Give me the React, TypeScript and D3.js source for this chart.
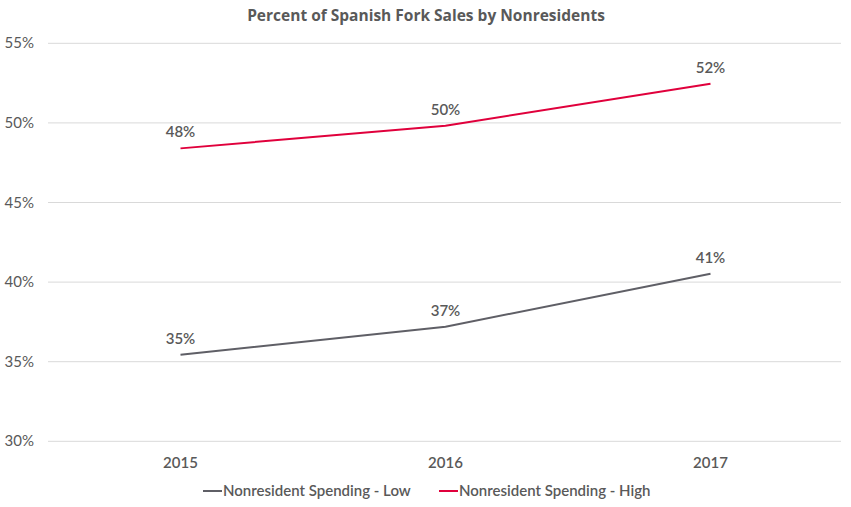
import React from "react";
import * as d3 from "d3";

const categories = ["2015", "2016", "2017"];
const lowValues = [35.44, 37.2, 40.53];
const highValues = [48.4, 49.82, 52.46];
const yTicks = [30, 35, 40, 45, 50, 55];
const seriesNames = ["Nonresident Spending - Low", "Nonresident Spending - High"];
const title = "Percent of Spanish Fork Sales by Nonresidents";

const W = 851;
const H = 507;
const FONT = "Lato, 'Open Sans', sans-serif";
const TEXT = "#595959";
const COLORS = ["#5f5f66", "#e0003c"];

export default function App() {
  const x = d3.scaleBand<string>().domain(categories).range([48, 843]);
  const y = d3.scaleLinear().domain([30, 55]).range([441.3, 43.3]);
  const line = d3
    .line<number>()
    .x((_, i) => (x(categories[i]) as number) + x.bandwidth() / 2)
    .y((d) => y(d));
  const series = [lowValues, highValues];

  return (
    <svg width={W} height={H} style={{ position: "absolute", left: 0, top: 0 }}>
      <rect width={W} height={H} fill="#fff" />
      <text x={426} y={21} textAnchor="middle" fontFamily="'Open Sans', sans-serif" fontWeight={700} fontSize={15.5} fill={TEXT}>
        {title}
      </text>
      {yTicks.map((t) => (
        <g key={t}>
          <line x1={48} x2={841} y1={y(t)} y2={y(t)} stroke="#d9d9d9" strokeWidth={1} />
          <text x={34} y={y(t) + 5} textAnchor="end" fontFamily={FONT} fontSize={15} fill={TEXT}>
            {t}%
          </text>
        </g>
      ))}
      {categories.map((c) => (
        <text key={c} x={(x(c) as number) + x.bandwidth() / 2} y={468} textAnchor="middle" fontFamily={FONT} fontWeight={600} fontSize={15} fill={TEXT}>
          {c}
        </text>
      ))}
      {series.map((s, si) => (
        <g key={si}>
          <path d={line(s) || ""} fill="none" stroke={COLORS[si]} strokeWidth={2} />
          {s.map((v, i) => (
            <text key={i} x={(x(categories[i]) as number) + x.bandwidth() / 2} y={y(v) - 11} textAnchor="middle" fontFamily={FONT} fontWeight={600} fontSize={15} fill={TEXT}>
              {Math.round(v)}%
            </text>
          ))}
        </g>
      ))}
      {seriesNames.map((n, i) => {
        const lx = i === 0 ? 203 : 439;
        return (
          <g key={n}>
            <line x1={lx} x2={lx + 19} y1={491} y2={491} stroke={COLORS[i]} strokeWidth={2} />
            <text x={lx + 20} y={496} fontFamily={FONT} fontWeight={600} fontSize={15} fill={TEXT}>
              {n}
            </text>
          </g>
        );
      })}
    </svg>
  );
}
